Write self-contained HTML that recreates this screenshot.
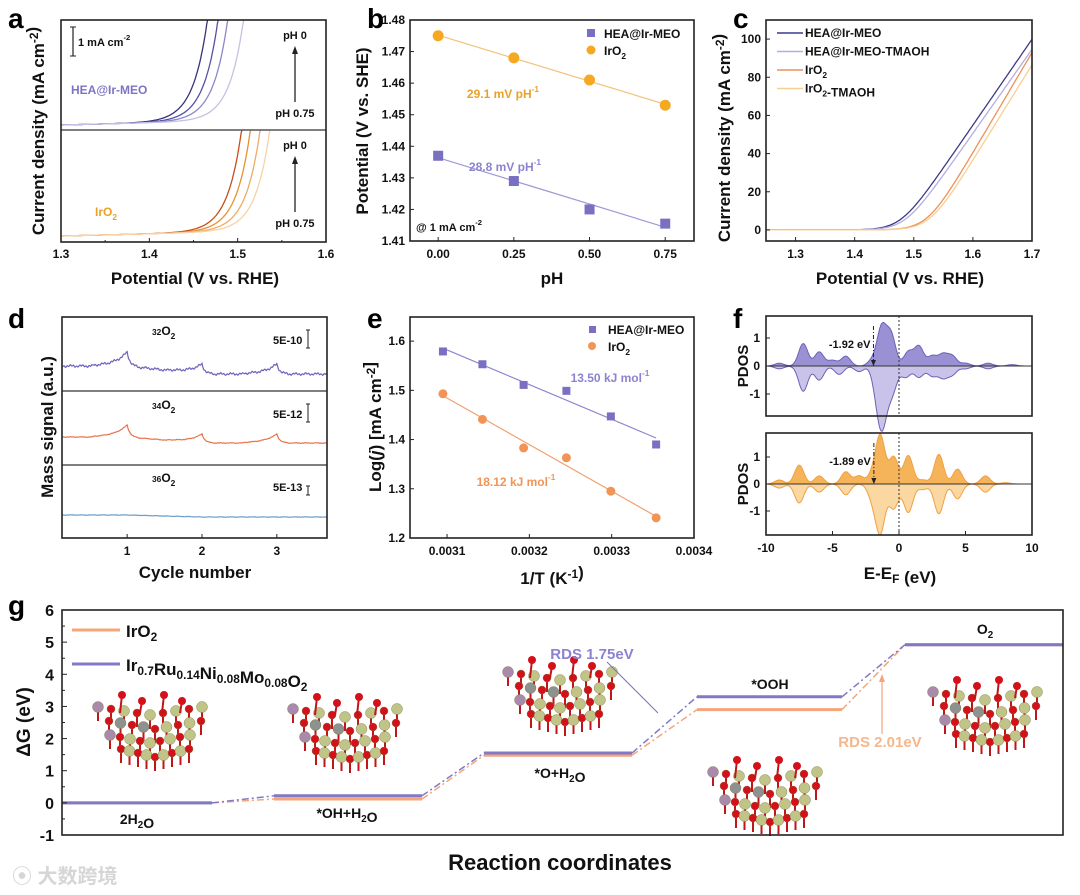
<!DOCTYPE html>
<html><head><meta charset="utf-8">
<style>
html,body{margin:0;padding:0;background:#fff;}
svg{display:block;font-family:"Liberation Sans","Noto Sans CJK SC",sans-serif;font-weight:bold;}
</style></head>
<body>
<svg id="fig" width="1080" height="895" viewBox="0 0 1080 895" xmlns="http://www.w3.org/2000/svg"></svg>
<script>
// ---------- data ----------
const aPH = [0, 0.25, 0.5, 0.75];
const aHeaTop = [1.467, 1.479, 1.490, 1.508];
const aIrTop = [1.506, 1.516, 1.527, 1.538];
const bPH = [0, 0.25, 0.5, 0.75];
const bHea = [1.437, 1.429, 1.420, 1.4155];
const bIr = [1.475, 1.468, 1.461, 1.453];
const bTicksY = [1.41, 1.42, 1.43, 1.44, 1.45, 1.46, 1.47, 1.48];
const bTicksX = [0, 0.25, 0.5, 0.75];
const cNames = ["HEA@Ir-MEO", "HEA@Ir-MEO-TMAOH", "IrO2", "IrO2-TMAOH"];
const cSlope = [450, 440, 525, 500];
const cIntercept = [1.478, 1.485, 1.523, 1.527];
const cTicksX = [1.3, 1.4, 1.5, 1.6, 1.7];
const cTicksY = [0, 20, 40, 60, 80, 100];
const dCycles = [1, 2, 3];
const d32Peaks = [14, 10, 10];
const d34Peaks = [12, 9, 9];
const d36Peaks = [0, 0, 0];
const eX = [0.003095, 0.003143, 0.003193, 0.003245, 0.003299, 0.003354];
const eHea = [1.579, 1.553, 1.511, 1.499, 1.447, 1.390];
const eIr = [1.493, 1.441, 1.383, 1.363, 1.295, 1.241];
const eTicksX = [0.0031, 0.0032, 0.0033, 0.0034];
const eTicksY = [1.2, 1.3, 1.4, 1.5, 1.6];
const fHeaUp = [[-9,0.1],[-7.2,0.8],[-6,0.5],[-5,0.2],[-4,0.35],[-2,0.2],[-1.3,1.35],[-0.6,1.1],[0.7,0.5],[1.5,0.7],[2.5,0.35],[3.3,0.4],[4,0.35],[5,0.1],[6.7,0.1],[8.5,0.05]];
const fHeaDn = [[-9,-0.1],[-7.2,-0.9],[-6,-0.5],[-4.5,-0.3],[-3,-0.2],[-1.6,-1.0],[-1.2,-1.65],[-0.5,-0.9],[0.5,-0.4],[1.5,-0.4],[2.5,-0.35],[3.3,-0.4],[4,-0.3],[5,-0.1],[6.7,-0.1]];
const fIrUp = [[-9,0.15],[-7.5,0.7],[-6,0.3],[-4,0.45],[-3,0.3],[-2,0.35],[-1.4,1.75],[-0.4,1.0],[0.7,1.05],[1.8,0.15],[3,1.1],[4.4,0.55],[6.5,0.3],[8,0.05]];
const fIrDn = [[-9,-0.15],[-7.5,-0.7],[-6,-0.3],[-4,-0.4],[-2,-0.5],[-1.4,-1.75],[-0.4,-0.9],[0.7,-1.05],[1.8,-0.2],[3,-1.1],[4.4,-0.55],[6.5,-0.3]];
const fTicksX = [-10, -5, 0, 5, 10];
const fTicksY = [-1, 0, 1];
const gSteps = ["2H2O", "*OH+H2O", "*O+H2O", "*OOH", "O2"];
const gHea = [0, 0.22, 1.55, 3.30, 4.92];
const gIr = [0, 0.12, 1.48, 2.90, 4.92];
const gTicksY = [-1, 0, 1, 2, 3, 4, 5, 6];

// ---------- helpers ----------
const svg = document.getElementById('fig');
const NS = "http://www.w3.org/2000/svg";
function mk(tag, attrs, parent) {
  const el = document.createElementNS(NS, tag);
  for (const k in attrs) el.setAttribute(k, attrs[k]);
  (parent || svg).appendChild(el);
  return el;
}
function txt(x, y, html, size, anchor, fill, rot) {
  const t = mk('text', {x: x, y: y, 'font-size': size, 'text-anchor': anchor || 'middle', fill: fill || '#111'});
  if (rot) t.setAttribute('transform', 'rotate(' + rot + ' ' + x + ' ' + y + ')');
  t.innerHTML = html;
  return t;
}
function lin(d0, d1, r0, r1) { return v => r0 + (v - d0) / (d1 - d0) * (r1 - r0); }
function box(x0, y0, x1, y1) {
  return mk('rect', {x: x0, y: y0, width: x1 - x0, height: y1 - y0, fill: 'none', stroke: '#222', 'stroke-width': 1.6});
}
function pathFrom(pts) { return pts.map((p, i) => (i ? 'L' : 'M') + p[0].toFixed(1) + ',' + p[1].toFixed(1)).join(''); }
const SUB = s => '<tspan font-size="0.7em" dy="4">' + s + '</tspan><tspan dy="-4"></tspan>';
const SUP = s => '<tspan font-size="0.7em" dy="-6">' + s + '</tspan><tspan dy="6"></tspan>';

[['a', 8, 28], ['b', 367, 28], ['c', 733, 28], ['d', 8, 328], ['e', 367, 328], ['f', 733, 328], ['g', 8, 615]].forEach(l => {
  const t = txt(l[1], l[2], l[0], 28, 'start', '#000');
  
  
});

// ---------- panel a ----------
(function () {
  const X0 = 61, X1 = 326, Y0 = 20, Y1 = 242, YM = 130;
  const g = mk('g', {});  
  const sx = lin(1.3, 1.6, X0, X1);
  const heaCol = ['#35337a', '#5550a5', '#8c87c8', '#c4c1e2'];
  const irCol = ['#c4501a', '#e8922c', '#efaa66', '#f7d2a6'];
  const s = 0.016;
  function curves(tops, cols, top, bottom, base0, name) {
    tops.forEach((xt, i) => {
      const pts = [];
      for (let v = 1.3; v <= 1.6; v += 0.001) {
        const y = bottom - base0 - 22 * (v - 1.3) - (bottom - top) * Math.exp((v - xt) / s);
        if (y < top) { pts.push([sx(v), top]); break; }
        pts.push([sx(v), y]);
      }
      const p = mk('path', {d: pathFrom(pts), fill: 'none', stroke: cols[i], 'stroke-width': 1.3}, g);
      
      
    });
  }
  curves(aHeaTop, heaCol, Y0, YM, 5, 'hea-curve');
  curves(aIrTop, irCol, YM, Y1, 6, 'iro2-curve');
  box(X0, Y0, X1, Y1);
  mk('line', {x1: X0, y1: YM, x2: X1, y2: YM, stroke: '#555', 'stroke-width': 1.6}, g);
  [1.3, 1.4, 1.5, 1.6].forEach(v => {
    mk('line', {x1: sx(v), y1: Y1, x2: sx(v), y2: Y1 - 4, stroke: '#222'}, g);
    txt(sx(v), 258, v.toFixed(1), 12);
  });
  [1.35, 1.45, 1.55].forEach(v => mk('line', {x1: sx(v), y1: Y1, x2: sx(v), y2: Y1 - 2, stroke: '#222'}, g));
  txt(195, 284, 'Potential (V vs. RHE)', 17);
  txt(44, 131, 'Current density (mA cm' + SUP('-2') + ')', 17, 'middle', '#111', -90);
  mk('line', {x1: 73, y1: 27, x2: 73, y2: 56, stroke: '#222', 'stroke-width': 1.2}, g);
  mk('line', {x1: 70, y1: 27, x2: 76, y2: 27, stroke: '#222'}, g);
  mk('line', {x1: 70, y1: 56, x2: 76, y2: 56, stroke: '#222'}, g);
  txt(78, 46, '1 mA cm' + SUP('-2'), 11, 'start');
  txt(71, 94, 'HEA@Ir-MEO', 12, 'start', '#7b74c4');
  txt(95, 216, 'IrO' + SUB('2'), 12, 'start', '#eaa12a');
  [[20, 130], [130, 242]].forEach(r => {
    txt(295, r[0] + 19, 'pH 0', 11);
    txt(295, r[0] + 97, 'pH 0.75', 11);
    mk('line', {x1: 295, y1: r[0] + 82, x2: 295, y2: r[0] + 32, stroke: '#222', 'stroke-width': 1.3}, g);
    mk('path', {d: 'M292,' + (r[0] + 34) + 'L295,' + (r[0] + 26) + 'L298,' + (r[0] + 34) + 'Z', fill: '#222'}, g);
  });
})();

// ---------- panel b ----------
(function () {
  const X0 = 410, X1 = 694, Y0 = 20, Y1 = 241;
  const g = mk('g', {});  
  const sx = lin(-0.093, 0.845, X0, X1), sy = lin(1.41, 1.48, Y1, Y0);
  box(X0, Y0, X1, Y1);
  bTicksY.forEach(v => { mk('line', {x1: X0, y1: sy(v), x2: X0 + 4, y2: sy(v), stroke: '#222'}, g); txt(X0 - 5, sy(v) + 4, v.toFixed(2), 12, 'end'); });
  bTicksX.forEach(v => { mk('line', {x1: sx(v), y1: Y1, x2: sx(v), y2: Y1 - 4, stroke: '#222'}, g); txt(sx(v), 258, v.toFixed(2), 12); });
  function fitLine(xs, ys, col, name) {
    const n = xs.length, mx = xs.reduce((a, b) => a + b) / n, my = ys.reduce((a, b) => a + b) / n;
    let num = 0, den = 0; xs.forEach((x, i) => { num += (x - mx) * (ys[i] - my); den += (x - mx) * (x - mx); });
    const k = num / den, c = my - k * mx;
    const l = mk('line', {x1: sx(xs[0]), y1: sy(c + k * xs[0]), x2: sx(xs[n - 1]), y2: sy(c + k * xs[n - 1]), stroke: col, 'stroke-width': 1.2}, g);
     
  }
  fitLine(bPH, bHea, '#9f9ad6', 'hea-fit-line');
  fitLine(bPH, bIr, '#f3c27a', 'iro2-fit-line');
  bPH.forEach((v, i) => {
    const r = mk('rect', {x: sx(v) - 5, y: sy(bHea[i]) - 5, width: 10, height: 10, fill: '#7a70c2'}, g);
     
    const c = mk('circle', {cx: sx(v), cy: sy(bIr[i]), r: 5.5, fill: '#f6a821'}, g);
     
  });
  txt(552, 284, 'pH', 17);
  txt(368, 131, 'Potential (V vs. SHE)', 17, 'middle', '#111', -90);
  mk('rect', {x: 587, y: 29, width: 8, height: 8, fill: '#7a70c2'}, g);
  txt(604, 38, 'HEA@Ir-MEO', 12, 'start');
  mk('circle', {cx: 591, cy: 50, r: 4.5, fill: '#f6a821'}, g);
  txt(604, 55, 'IrO' + SUB('2'), 12, 'start');
  txt(503, 98, '29.1 mV pH' + SUP('-1'), 12, 'middle', '#eaa12a');
  txt(505, 171, '28.8 mV pH' + SUP('-1'), 12, 'middle', '#8b83d0');
  txt(416, 231, '@ 1 mA cm' + SUP('-2'), 11, 'start');
})();

// ---------- panel c ----------
(function () {
  const X0 = 766, X1 = 1032, Y0 = 20, Y1 = 241;
  const g = mk('g', {});  
  const sx = lin(1.25, 1.7, X0, X1), sy = lin(-5.8, 110, Y1, Y0);
  const cols = ['#3d3a86', '#b2aee0', '#ec9058', '#f8cf92'];
  cSlope.forEach((k, i) => {
    const pts = [], s = 0.018;
    for (let v = 1.25; v <= 1.7001; v += 0.002) {
      const z = (v - cIntercept[i]) / s;
      const j = k * s * (z > 30 ? z : Math.log(1 + Math.exp(z)));
      pts.push([sx(v), sy(j)]);
    }
    const p = mk('path', {d: pathFrom(pts), fill: 'none', stroke: cols[i], 'stroke-width': 1.3}, g);
    
    
  });
  box(X0, Y0, X1, Y1);
  cTicksY.forEach(v => { mk('line', {x1: X0, y1: sy(v), x2: X0 + 4, y2: sy(v), stroke: '#222'}, g); txt(X0 - 5, sy(v) + 4, v, 12, 'end'); });
  cTicksX.forEach(v => { mk('line', {x1: sx(v), y1: Y1, x2: sx(v), y2: Y1 - 4, stroke: '#222'}, g); txt(sx(v), 258, v.toFixed(1), 12); });
  txt(900, 284, 'Potential (V vs. RHE)', 17);
  txt(730, 138, 'Current density (mA cm' + SUP('-2') + ')', 17, 'middle', '#111', -90);
  const lab = ['HEA@Ir-MEO', 'HEA@Ir-MEO-TMAOH', 'IrO' + SUB('2'), 'IrO' + SUB('2') + '-TMAOH'];
  lab.forEach((l, i) => {
    const y = 33 + i * 18.5;
    const ln = mk('line', {x1: 777, y1: y, x2: 803, y2: y, stroke: cols[i], 'stroke-width': 1.5}, g);
     
    txt(805, y + 4, l, 12, 'start');
  });
})();

// ---------- panel d ----------
(function () {
  const X0 = 62, X1 = 327, Y0 = 317, Y1 = 538;
  const g = mk('g', {});  
  const sx = lin(0.13, 3.67, X0, X1);
  function trace(base, drop, peaks, col, noise, name) {
    const pts = [];
    for (let v = 0.13; v <= 3.67; v += 0.01) {
      let y = base + drop * Math.min(1, Math.max(0, v - 1.0));
      dCycles.forEach((c, i) => {
        const d = v - c;
        if (d < 0 && d > -0.45) y -= peaks[i] * Math.exp(d * 6);
        else if (d >= 0 && d < 0.15) y -= peaks[i] * Math.exp(-d * 25);
      });
      y += noise * Math.sin(v * 97) * Math.cos(v * 53);
      pts.push([sx(v), y]);
    }
    const p = mk('path', {d: pathFrom(pts), fill: 'none', stroke: col, 'stroke-width': 1.2}, g);
     
  }
  trace(366, 8, d32Peaks, '#6a62bb', 1.4, 'trace-32o2');
  trace(437, 6, d34Peaks, '#e8734a', 0.4, 'trace-34o2');
  trace(515, 2, d36Peaks, '#6a9ecb', 0.3, 'trace-36o2');
  box(X0, Y0, X1, Y1);
  mk('line', {x1: X0, y1: 391, x2: X1, y2: 391, stroke: '#555', 'stroke-width': 1.4}, g);
  mk('line', {x1: X0, y1: 465, x2: X1, y2: 465, stroke: '#555', 'stroke-width': 1.4}, g);
  dCycles.forEach(v => { mk('line', {x1: sx(v), y1: Y1, x2: sx(v), y2: Y1 - 4, stroke: '#222'}, g); txt(sx(v), 555, v, 12); });
  txt(195, 578, 'Cycle number', 17);
  txt(53, 427, 'Mass signal (a.u.)', 17, 'middle', '#111', -90);
  [['32', '5E-10', 341, 14], ['34', '5E-12', 415, 14], ['36', '5E-13', 488, 5]].forEach(r => {
    txt(152, r[2], SUP(r[0]) + 'O' + SUB('2'), 12, 'start');
    txt(273, r[2] + 3, r[1], 11, 'start');
    mk('line', {x1: 308, y1: r[2] - r[3] + 3, x2: 308, y2: r[2] + 7, stroke: '#222'}, g);
    mk('line', {x1: 306, y1: r[2] - r[3] + 3, x2: 310, y2: r[2] - r[3] + 3, stroke: '#222'}, g);
    mk('line', {x1: 306, y1: r[2] + 7, x2: 310, y2: r[2] + 7, stroke: '#222'}, g);
  });
})();

// ---------- panel e ----------
(function () {
  const X0 = 410, X1 = 694, Y0 = 317, Y1 = 538;
  const g = mk('g', {});  
  const sx = lin(0.003055, 0.0034, X0, X1), sy = lin(1.2, 1.649, Y1, Y0);
  function fitLine(xs, ys, col, name) {
    const n = xs.length, mx = xs.reduce((a, b) => a + b) / n, my = ys.reduce((a, b) => a + b) / n;
    let num = 0, den = 0; xs.forEach((x, i) => { num += (x - mx) * (ys[i] - my); den += (x - mx) * (x - mx); });
    const k = num / den, c = my - k * mx;
    const l = mk('line', {x1: sx(xs[0]), y1: sy(c + k * xs[0]), x2: sx(xs[n - 1]), y2: sy(c + k * xs[n - 1]), stroke: col, 'stroke-width': 1.2}, g);
     
  }
  fitLine(eX, eHea, '#8c86cf', 'hea-arrhenius-fit');
  fitLine(eX, eIr, '#f2a070', 'iro2-arrhenius-fit');
  eX.forEach((v, i) => {
    const r = mk('rect', {x: sx(v) - 4, y: sy(eHea[i]) - 4, width: 8, height: 8, fill: '#7a70c2'}, g);
     
    const c = mk('circle', {cx: sx(v), cy: sy(eIr[i]), r: 4.5, fill: '#f29455'}, g);
     
  });
  box(X0, Y0, X1, Y1);
  eTicksY.forEach(v => { mk('line', {x1: X0, y1: sy(v), x2: X0 + 4, y2: sy(v), stroke: '#222'}, g); txt(X0 - 5, sy(v) + 4, v.toFixed(1), 12, 'end'); });
  eTicksX.forEach(v => { mk('line', {x1: sx(v), y1: Y1, x2: sx(v), y2: Y1 - 4, stroke: '#222'}, g); txt(sx(v), 555, v.toFixed(4), 12); });
  txt(552, 584, '1/T (K' + SUP('-1') + ')', 17);
  txt(381, 427, 'Log(<tspan font-style="italic">j</tspan>) [mA cm' + SUP('-2') + ']', 17, 'middle', '#111', -90);
  mk('rect', {x: 589, y: 326, width: 7, height: 7, fill: '#7a70c2'}, g);
  txt(608, 334, 'HEA@Ir-MEO', 12, 'start');
  mk('circle', {cx: 592, cy: 346, r: 4, fill: '#f29455'}, g);
  txt(608, 351, 'IrO' + SUB('2'), 12, 'start');
  txt(610, 382, '13.50 kJ mol' + SUP('-1'), 12, 'middle', '#8b83d0');
  txt(516, 486, '18.12 kJ mol' + SUP('-1'), 12, 'middle', '#f29455');
})();

// ---------- panel f ----------
(function () {
  const X0 = 766, X1 = 1032;
  const g = mk('g', {});  
  const sx = lin(-10, 10, X0, X1);
  function dos(peaks, zero, scale, fill, stroke, name) {
    const pts = [[sx(-9.8), zero]];
    for (let e = -9.8; e <= 9.8; e += 0.04) {
      let v = 0; peaks.forEach(p => { v += p[1] * Math.exp(-((e - p[0]) ** 2) / (2 * 0.12)); });
      pts.push([sx(e), zero - v * scale]);
    }
    pts.push([sx(9.8), zero]);
    const p = mk('path', {d: pathFrom(pts) + 'Z', fill: fill, stroke: stroke, 'stroke-width': 1}, g);
     
  }
  [[316, 416, 366, 28, fHeaUp, fHeaDn, '#9a90d4', '#c9c3ea', '#6d62b8', 'hea', '-1.92 eV', -1.92],
   [433, 535, 484, 27, fIrUp, fIrDn, '#f6b45a', '#fbd7a2', '#f0a040', 'iro2', '-1.89 eV', -1.89]].forEach(r => {
    dos(r[4], r[2], r[3], r[6], r[8], 'pdos-up-' + r[9]);
    dos(r[5], r[2], r[3], r[7], r[8], 'pdos-down-' + r[9]);
    mk('line', {x1: X0, y1: r[2], x2: X1, y2: r[2], stroke: '#333', 'stroke-width': 1}, g);
    mk('line', {x1: sx(0), y1: r[0], x2: sx(0), y2: r[1], stroke: '#333', 'stroke-dasharray': '2,2'}, g);
    mk('line', {x1: sx(r[11]), y1: r[0] + 10, x2: sx(r[11]), y2: r[2], stroke: '#222', 'stroke-dasharray': '4,2,1,2'}, g);
    mk('path', {d: 'M' + (sx(r[11]) - 2.5) + ',' + (r[2] - 6) + 'L' + sx(r[11]) + ',' + r[2] + 'L' + (sx(r[11]) + 2.5) + ',' + (r[2] - 6) + 'Z', fill: '#222'}, g);
    txt(sx(r[11]) - 3, r[0] + 32, r[10], 11, 'end');
    box(X0, r[0], X1, r[1]);
    fTicksY.forEach(v => { const y = r[2] - v * r[3]; mk('line', {x1: X0, y1: y, x2: X0 + 4, y2: y, stroke: '#222'}, g); txt(X0 - 6, y + 4, v, 12, 'end'); });
    txt(748, (r[0] + r[1]) / 2, 'PDOS', 15, 'middle', '#111', -90);
  });
  fTicksX.forEach(v => { mk('line', {x1: sx(v), y1: 535, x2: sx(v), y2: 531, stroke: '#222'}, g); txt(sx(v), 552, v, 12); });
  txt(900, 579, 'E-E' + SUB('F') + ' (eV)', 17);
})();

// ---------- panel g ----------
(function () {
  const X0 = 62, X1 = 1063, Y0 = 610, Y1 = 835;
  const g = mk('g', {});  
  const sy = lin(-1, 6, Y1, Y0);
  const seg = [[62, 212], [274, 422], [484, 632], [697, 842], [905, 1063]];
  function crystal(cx, cy, name) {
    const cg = mk('g', {}, g);  
    for (let r = 0; r < 4; r++) {
      const w = 52 - r * 6;
      for (let c = -4; c <= 4; c++) {
        const x = cx + c * w / 4 + (r % 2) * 5, y = cy + r * 14 - 10 + Math.abs(c) * -2;
        mk('line', {x1: x, y1: y, x2: x, y2: y + 14, stroke: '#c0161a', 'stroke-width': 2}, cg);
        mk('circle', {cx: x, cy: y, r: (c + r) % 2 ? 4 : 5.5, fill: (c + r) % 2 ? '#d4101a' : ((c === -4) ? '#a98aac' : (r === 1 && c < 0 ? '#8d9190' : '#c0c488')), stroke: '#7a7a3a', 'stroke-width': 0.4}, cg);
      }
    }
    [-30, -10, 12, 30].forEach((dx, i) => {
      mk('line', {x1: cx + dx, y1: cy - 12, x2: cx + dx + 2, y2: cy - 30 + i % 2 * 6, stroke: '#c0161a', 'stroke-width': 2}, cg);
      mk('circle', {cx: cx + dx + 2, cy: cy - 30 + i % 2 * 6, r: 4, fill: '#d4101a'}, cg);
    });
  }
  crystal(150, 725, 'structure-2h2o');
  crystal(345, 727, 'structure-oh');
  crystal(560, 690, 'structure-o');
  crystal(765, 790, 'structure-ooh');
  crystal(985, 710, 'structure-o2');
  function levels(vals, col, name, w) {
    vals.forEach((v, i) => {
      const l = mk('line', {x1: seg[i][0], y1: sy(v), x2: seg[i][1], y2: sy(v), stroke: col, 'stroke-width': w}, g);
       
      if (i < vals.length - 1) {
        const c = mk('line', {x1: seg[i][1], y1: sy(v), x2: seg[i + 1][0], y2: sy(vals[i + 1]), stroke: col, 'stroke-width': 1.5, 'stroke-dasharray': '7,3,2,3'}, g);
         
      }
    });
  }
  levels(gIr, '#f4a57a', 'iro2', 3);
  levels(gHea, '#8178c6', 'hea', 3);
  box(X0, Y0, X1, Y1);
  gTicksY.forEach(v => { mk('line', {x1: X0, y1: sy(v), x2: X0 + 5, y2: sy(v), stroke: '#222'}, g); txt(X0 - 8, sy(v) + 6, v, 16, 'end'); });
  gTicksY.slice(0, -1).forEach(v => mk('line', {x1: X0, y1: sy(v + 0.5), x2: X0 + 3, y2: sy(v + 0.5), stroke: '#222'}, g));
  txt(30, 722, 'ΔG (eV)', 19, 'middle', '#111', -90);
  txt(560, 870, 'Reaction coordinates', 22);
  txt(137, 824, '2H' + SUB('2') + 'O', 14);
  txt(347, 818, '*OH+H' + SUB('2') + 'O', 14);
  txt(560, 778, '*O+H' + SUB('2') + 'O', 14);
  txt(770, 689, '*OOH', 14);
  txt(985, 634, 'O' + SUB('2'), 14);
  const l1 = mk('line', {x1: 72, y1: 630, x2: 120, y2: 630, stroke: '#f4a57a', 'stroke-width': 3}, g);
   
  txt(126, 637, 'IrO' + SUB('2'), 17, 'start');
  const l2 = mk('line', {x1: 72, y1: 664, x2: 120, y2: 664, stroke: '#8178c6', 'stroke-width': 3}, g);
   
  txt(126, 671, 'Ir' + SUB('0.7') + 'Ru' + SUB('0.14') + 'Ni' + SUB('0.08') + 'Mo' + SUB('0.08') + 'O' + SUB('2'), 17, 'start');
  txt(592, 659, 'RDS 1.75eV', 15, 'middle', '#8b83d0');
  mk('line', {x1: 607, y1: 662, x2: 658, y2: 713, stroke: '#7a70c2', 'stroke-width': 1}, g);
  txt(880, 747, 'RDS 2.01eV', 15, 'middle', '#f5b78c');
  mk('line', {x1: 882, y1: 734, x2: 882, y2: 676, stroke: '#f4a57a', 'stroke-width': 1.2}, g);
  mk('path', {d: 'M879,682L882,674L885,682Z', fill: '#f4a57a'}, g);
})();

const wm = txt(12, 883, '⦿ 大数跨境', 20, 'start', '#d6d6d6');


</script>
</body></html>
